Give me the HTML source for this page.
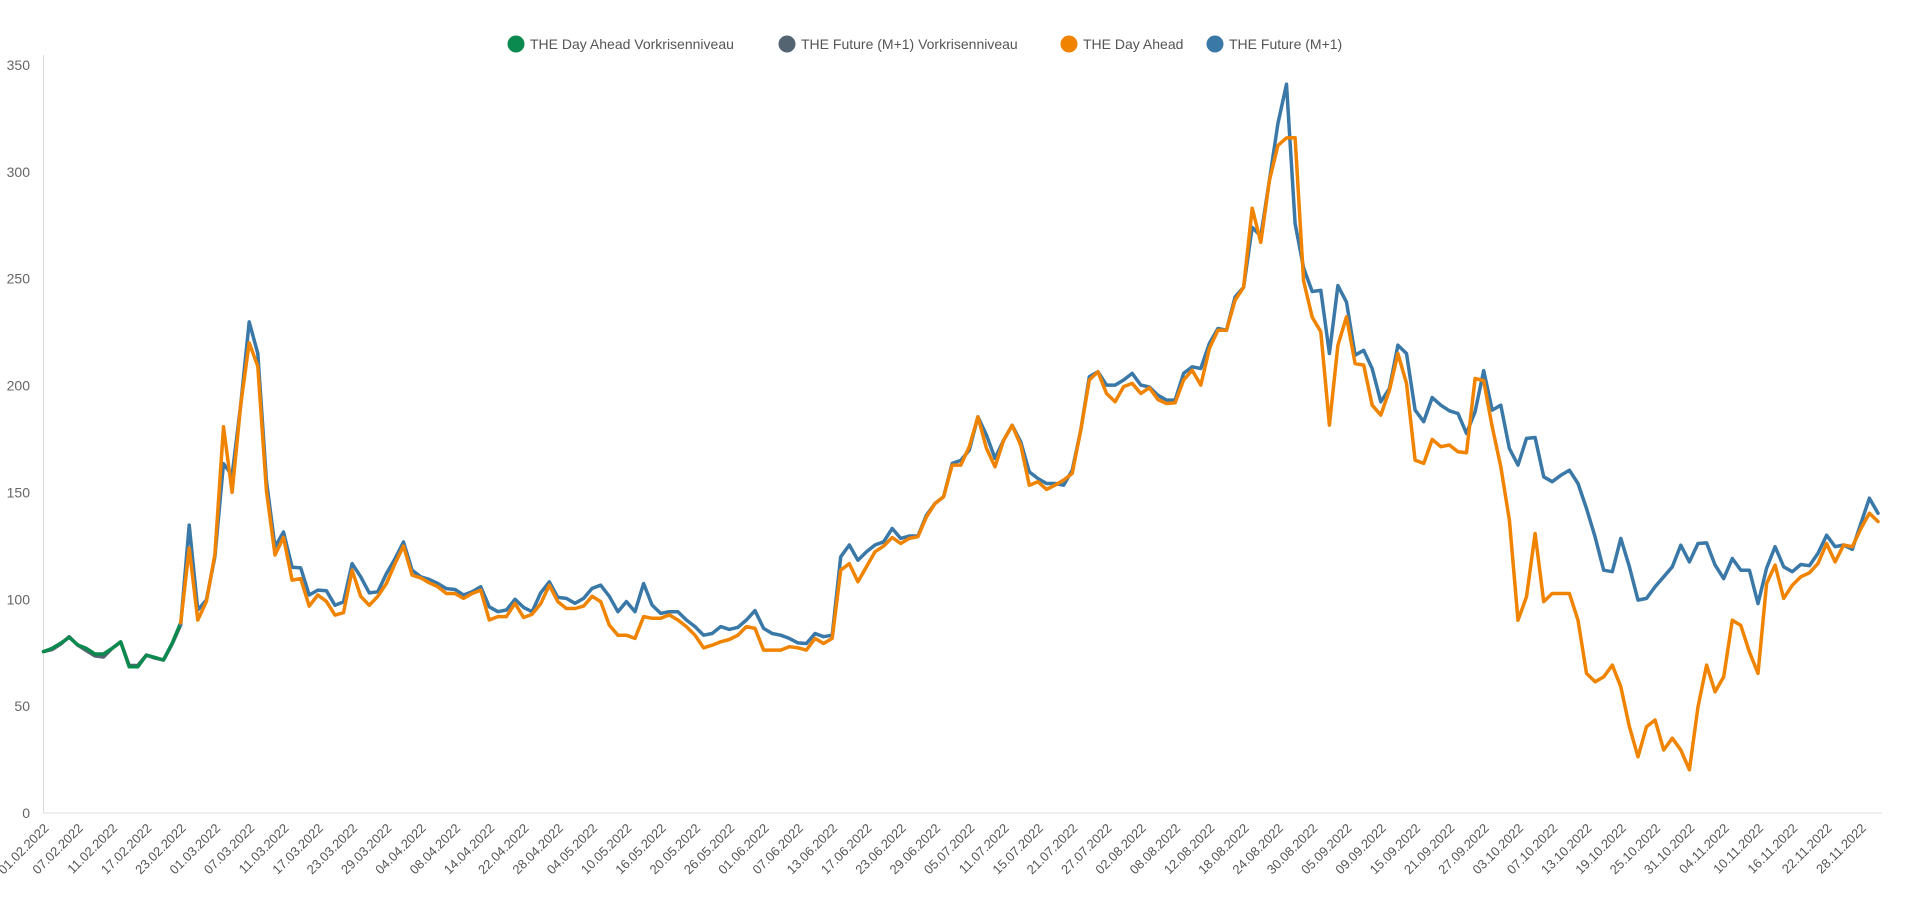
<!DOCTYPE html>
<html><head><meta charset="utf-8"><style>
html,body{margin:0;padding:0;background:#fff;}
svg{display:block;font-family:"Liberation Sans",Arial,sans-serif;}
</style></head><body>
<svg id="chart" width="1905" height="910" viewBox="0 0 1905 910" xmlns="http://www.w3.org/2000/svg">
<g font-size="14" fill="#555">
<g><circle cx="516" cy="44" r="8.5" fill="#0a8a4e"/><text x="530" y="49">THE Day Ahead Vorkrisenniveau</text></g>
<g><circle cx="787" cy="44" r="8.5" fill="#546470"/><text x="801" y="49">THE Future (M+1) Vorkrisenniveau</text></g>
<g><circle cx="1069" cy="44" r="8.5" fill="#f08300"/><text x="1083" y="49">THE Day Ahead</text></g>
<g><circle cx="1215" cy="44" r="8.5" fill="#3a78a8"/><text x="1229" y="49">THE Future (M+1)</text></g>
</g>
<g id="axes"></g>
<g id="series"></g>
</svg>
<script>
const yTicks = [0,50,100,150,200,250,300,350];
const tickLabels = ["01.02.2022","07.02.2022","11.02.2022","17.02.2022","23.02.2022","01.03.2022","07.03.2022","11.03.2022","17.03.2022","23.03.2022","29.03.2022","04.04.2022","08.04.2022","14.04.2022","22.04.2022","28.04.2022","04.05.2022","10.05.2022","16.05.2022","20.05.2022","26.05.2022","01.06.2022","07.06.2022","13.06.2022","17.06.2022","23.06.2022","29.06.2022","05.07.2022","11.07.2022","15.07.2022","21.07.2022","27.07.2022","02.08.2022","08.08.2022","12.08.2022","18.08.2022","24.08.2022","30.08.2022","05.09.2022","09.09.2022","15.09.2022","21.09.2022","27.09.2022","03.10.2022","07.10.2022","13.10.2022","19.10.2022","25.10.2022","31.10.2022","04.11.2022","10.11.2022","16.11.2022","22.11.2022","28.11.2022"];
const tickEvery = 4;
const pointCount = 215;
const vorkrisenDayAhead = [75.5,77,79.4,82.2,78.6,77,74.4,74.4,77,80.1,68.4,68.4,73.9,72.8,71.6,79.4,89];
const vorkrisenFuture = [75.5,76.5,79,82.5,78.5,76,73.5,73,77,80,69,69,73.9,72.5,71.6,79,88];
const mainStart = 16;
const dayAhead = [89,124,90.3,99,121,180.7,150,191,220,209,151,120.7,129,109,109.7,96.8,102,99,92.6,93.7,113.6,101.4,97.2,101.4,107.4,116.7,125,111.3,110,107.7,105.9,102.7,102.7,
100.4,102.7,104.3,90.3,91.9,91.9,98.1,91.5,93,98,106.6,98.9,95.7,95.7,96.8,101.4,98.9,87.9,83.2,83.2,81.7,91.9,91.1,91.1,92.7,90.3,87.2,83.2,77.3,78.5,80.1,81.2,83.2,87.2,86.4,76.2,76.2,76.2,77.8,77.3,76.2,81.7,79.3,81.7,113.6,116.7,108.2,115.2,122.2,
124.9,128.9,126.1,128.5,129.3,138.6,144.8,148,162.8,162.8,171.4,185.4,170.6,162,174.4,181.4,172,153.4,155,151.4,153.4,155.7,158.9,179.2,202.6,206.5,196.3,192.4,199.5,201,196.3,199,193.5,191.6,192,202.6,207.2,200.2,217.4,225.9,225.9,240,246,
283,267,296,312.4,315.9,316,249,232,
225.2,181.5,218.9,232.2,210.3,209.6,190.8,186.2,197.8,215,201,165.1,163.6,174.8,171.4,172.2,169,168.6,203.3,202.3,180.7,162,
137,90.2,101.2,130.8,98.9,102.7,102.7,102.7,90.2,65.3,61.4,63.7,69.2,59.1,40.4,26.3,40.4,43.5,29.5,35,29.5,20.2,49.7,69.2,56.7,63.7,90.2,87.8,75.4,65.3,
107.4,116,100.4,106.6,110.5,112.4,116.8,126.1,117.5,125.4,124.6,133.1,140.3,136.4];
const future = [88,134.7,95,99.7,120,163.5,158,191,229.8,215,155.6,124.5,131.5,115,114.7,102,104.3,104,97.2,98.8,116.7,110.5,103,103.5,112,119,126.8,113.6,110.5,109.3,107.4,105,104.6,
102,103.5,105.9,96.5,94.2,95,100,96.2,94.2,103,108.2,100.9,100.4,98.1,100.4,105.1,106.6,101.4,94.2,98.9,94.2,107.4,97.3,93.4,94.2,94.2,90.3,87.2,83.2,84,87.2,85.9,86.9,90.3,94.7,86.4,84,83.2,81.7,79.6,79.3,84,82.5,83.2,119.9,125.4,118.3,122.2,125.4,
126.9,133.1,128.5,129.6,129.6,139.4,144.8,148,163.6,165,169.8,185.4,176.8,165.9,174.4,181.4,173.6,159.6,156.5,154.2,154.2,153.4,160.4,179.2,204.1,206.5,200.2,200.2,202.6,205.7,200.2,199.4,195.5,193.2,193.2,205.7,208.8,208,219.7,226.7,225.9,241.5,246,
274,270,296,322.6,341,275.8,255,244,
244.6,215,246.8,239,214.2,216.5,207.9,192.4,198.6,218.9,215,188.5,183.1,194.4,190.8,188.2,186.9,177.6,187.8,207,188.5,190.8,
170.5,162.8,175.3,175.7,157.3,155,158,160.4,154.2,142.5,129.2,113.6,112.9,128.5,115.2,99.6,100.4,105.9,110.5,115.2,125.3,117.5,126.1,126.4,116,109.7,119.1,113.6,113.6,98,
114.6,124.6,115.2,112.9,116.3,115.7,121.5,130,124.6,125.4,123.4,135.5,147.3,140.3];

const NS = "http://www.w3.org/2000/svg";
const X0 = 43.5, X1 = 1878, Y0 = 813, YMAX = 350, YTOP = 65;
function xPos(i){ return X0 + i * (X1 - X0) / (pointCount - 1); }
function yPos(v){ return Y0 - v * (Y0 - YTOP) / YMAX; }
function mk(tag, attrs, parent){ const e = document.createElementNS(NS, tag); for (const k in attrs) e.setAttribute(k, attrs[k]); parent.appendChild(e); return e; }

const axes = document.getElementById('axes');
let yl = mk('line', {x1:X0, y1:YTOP-10, x2:X0, y2:Y0, stroke:'#dcdcdc', 'stroke-width':1}, axes);


let xl = mk('line', {x1:X0, y1:Y0, x2:X1+4, y2:Y0, stroke:'#dcdcdc', 'stroke-width':1}, axes);


yTicks.forEach(v => {
  const t = mk('text', {x:30, y:yPos(v)+5, 'text-anchor':'end', 'font-size':14, fill:'#666'}, axes);
  t.textContent = v;
  
  
});
tickLabels.forEach((lab, k) => {
  const x = xPos(k * tickEvery) + 6, y = Y0 + 16;
  const t = mk('text', {x:x, y:y, 'text-anchor':'end', 'font-size':13, fill:'#555', transform:'rotate(-45 '+x+' '+y+')'}, axes);
  t.textContent = lab;
  
  
});

const series = document.getElementById('series');
function drawLine(vals, start, color, name){
  const d = vals.map((v, j) => (j ? 'L' : 'M') + xPos(start + j).toFixed(1) + ' ' + yPos(v).toFixed(1)).join(' ');
  const p = mk('path', {d:d, fill:'none', stroke:color, 'stroke-width':3.5, 'stroke-linejoin':'round', 'stroke-linecap':'round'}, series);
  
  
}
drawLine(vorkrisenFuture, 0, '#546470', 'future-vorkrisen-line');
drawLine(vorkrisenDayAhead, 0, '#0a8a4e', 'day-ahead-vorkrisen-line');
drawLine(future, mainStart, '#3a78a8', 'future-line');
drawLine(dayAhead, mainStart, '#f08300', 'day-ahead-line');
</script>
</body></html>
